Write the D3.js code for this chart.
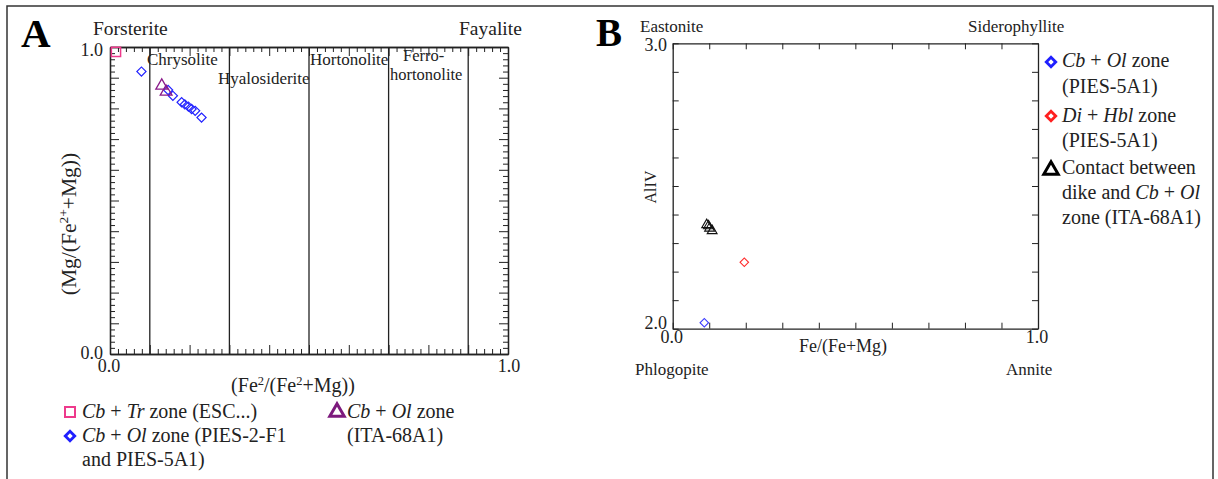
<!DOCTYPE html>
<html><head><meta charset="utf-8">
<script src="https://cdn.jsdelivr.net/npm/d3@7"></script>
<style>
body{margin:0;background:#fff;}
svg text{font-family:"Liberation Serif","Times New Roman",serif;fill:#222;}
</style></head>
<body><svg id="c" width="1218" height="479" font-family="Liberation Serif, Times New Roman, serif"></svg>
<script>
// ---------- DATA ----------
// Panel A (olivine): [Fe2/(Fe2+Mg), Mg/(Fe2++Mg)]
const olTr = [[0.015, 0.984]];
const olPies = [[0.079, 0.920],[0.146, 0.860],[0.158, 0.841],[0.180, 0.820],[0.188, 0.813],[0.197, 0.806],[0.205, 0.798],[0.214, 0.792],[0.230, 0.770]];
const olIta = [[0.130, 0.874],[0.141, 0.854]];
const olZoneLines = [0.1, 0.3, 0.5, 0.7, 0.9];
const olZoneNames = ["Chrysolite", "Hyalosiderite", "Hortonolite"];
const olZoneLast = ["Ferro-", "hortonolite"];
// Panel B (biotite): [Fe/(Fe+Mg), AlIV]
const biPies = [[0.0865, 2.021]];
const biDiHbl = [[0.196, 2.233]];
const biIta = [[0.093, 2.364],[0.098, 2.360],[0.101, 2.352],[0.108, 2.343]];
const tickLabelsA = ["0.0", "1.0"];
const tickLabelsBy = ["2.0", "3.0"];

const svg = d3.select("#c");
const ink = "#222";

// outer frame
svg.append("path").attr("d","M7,479 L7,6 L1213,6 L1213,479").attr("fill","none").attr("stroke","#333").attr("stroke-width",1.5);

function diamond(g, data, x, y, color, size, sw){
  g.selectAll(null).data(data).enter().append("path")
    .attr("d", d3.symbol().type(d3.symbolSquare).size(size)())
    .attr("transform", d=>`translate(${x(d[0])},${y(d[1])}) rotate(45)`)
    .attr("fill","none").attr("stroke",color).attr("stroke-width",sw);
}
function square(g, data, x, y, color, size, sw){
  g.selectAll(null).data(data).enter().append("path")
    .attr("d", d3.symbol().type(d3.symbolSquare).size(size)())
    .attr("transform", d=>`translate(${x(d[0])},${y(d[1])})`)
    .attr("fill","none").attr("stroke",color).attr("stroke-width",sw);
}
function triangle(g, data, x, y, color, size, sw){
  g.selectAll(null).data(data).enter().append("path")
    .attr("d", d3.symbol().type(d3.symbolTriangle).size(size)())
    .attr("transform", d=>`translate(${x(d[0])},${y(d[1])})`)
    .attr("fill","none").attr("stroke",color).attr("stroke-width",sw);
}
function styleAxis(g){
  g.select(".domain").attr("stroke",ink).attr("stroke-width",1.3);
  g.selectAll(".tick line").attr("stroke",ink).attr("stroke-width",1);
  g.selectAll(".tick text").remove();
}

// ---------- PANEL A ----------
const xA = d3.scaleLinear().domain([0,1]).range([110,508]);
const yA = d3.scaleLinear().domain([0,1]).range([354,47]);
const gA = svg.append("g");
const minorA = d3.range(0,51).map(i=>i/50).filter(v=>Math.round(v*50)%5!==0);
const majorA = d3.range(0,11).map(i=>i/10);
[[d3.axisBottom, yA(0)],[d3.axisTop,yA(1)]].forEach(([ax,pos])=>{
  styleAxis(gA.append("g").attr("transform",`translate(0,${pos})`).call(ax(xA).tickValues(minorA).tickSize(-5).tickSizeOuter(0)));
  styleAxis(gA.append("g").attr("transform",`translate(0,${pos})`).call(ax(xA).tickValues(majorA).tickSize(-9).tickSizeOuter(0)));
});
[[d3.axisLeft, xA(0)],[d3.axisRight,xA(1)]].forEach(([ax,pos])=>{
  styleAxis(gA.append("g").attr("transform",`translate(${pos},0)`).call(ax(yA).tickValues(minorA).tickSize(-5).tickSizeOuter(0)));
  styleAxis(gA.append("g").attr("transform",`translate(${pos},0)`).call(ax(yA).tickValues(majorA).tickSize(-9).tickSizeOuter(0)));
});
gA.selectAll(null).data(olZoneLines).enter().append("line")
  .attr("x1",d=>xA(d)).attr("x2",d=>xA(d)).attr("y1",yA(0)).attr("y2",yA(1))
  .attr("stroke",ink).attr("stroke-width",1.3);

// tick labels
gA.append("text").attr("x",103).attr("y",yA(1)+9).attr("text-anchor","end").attr("font-size",18).text(tickLabelsA[1]);
gA.append("text").attr("x",103).attr("y",yA(0)+5).attr("text-anchor","end").attr("font-size",18).text(tickLabelsA[0]);
gA.append("text").attr("x",xA(0)-1).attr("y",372).attr("text-anchor","middle").attr("font-size",18).text(tickLabelsA[0]);
gA.append("text").attr("x",xA(1)+1).attr("y",372).attr("text-anchor","middle").attr("font-size",18).text(tickLabelsA[1]);

// zone names
const zoneA = [[147,65,0],[218,84,1],[310,65,2]];
zoneA.forEach(([x,y,i])=>gA.append("text").attr("x",x).attr("y",y).attr("font-size",17).text(olZoneNames[i]));
gA.append("text").attr("font-size",16.5).attr("x",403).attr("y",61).text(olZoneLast[0]);
gA.append("text").attr("font-size",16.5).attr("x",390).attr("y",80).text(olZoneLast[1]);

gA.append("text").attr("x",21).attr("y",47).attr("font-size",41).attr("font-weight","bold").style("fill","#000").text("A");
gA.append("text").attr("x",93).attr("y",35).attr("font-size",19.5).text("Forsterite");
gA.append("text").attr("x",459).attr("y",35).attr("font-size",19.5).text("Fayalite");

// axis titles
const xt = gA.append("text").attr("x",293).attr("y",392).attr("text-anchor","middle").attr("font-size",20);
xt.append("tspan").text("(Fe");
xt.append("tspan").attr("font-size",12.5).attr("dy",-7).text("2");
xt.append("tspan").attr("dy",7).text("/(Fe");
xt.append("tspan").attr("font-size",12.5).attr("dy",-7).text("2");
xt.append("tspan").attr("dy",7).text("+Mg))");
const yt = gA.append("text").attr("transform","translate(76,224) rotate(-90)").attr("text-anchor","middle").attr("font-size",21.5);
yt.append("tspan").text("(Mg/(Fe");
yt.append("tspan").attr("font-size",13.5).attr("dy",-8).text("2+");
yt.append("tspan").attr("dy",8).text("+Mg))");

// marks
diamond(gA, olPies, xA, yA, "#2323ff", 42, 1.2);
triangle(gA, olIta, xA, yA, "#8a1a8a", 60, 1.3);
square(gA, olTr, xA, yA, "#ee3a8c", 85, 1.5);

// legend A
function legendText(g, x, y, parts, size){
  const t = g.append("text").attr("x",x).attr("y",y).attr("font-size",size);
  parts.forEach(p=>{ const s=t.append("tspan").text(p[0]); if(p[1]) s.attr("font-style","italic"); });
  return t;
}
const idx = d3.scaleIdentity();
square(gA.append("g").attr("transform","translate(70,412)"), [[0,0]], idx, idx, "#ee3a8c", 100, 2);
legendText(gA, 82, 418, [["Cb",1],[" + "],["Tr",1],[" zone (ESC...)"]], 20);
diamond(gA.append("g").attr("transform","translate(70,436)"), [[0,0]], idx, idx, "#1f1fff", 45, 2.8);
legendText(gA, 82, 442, [["Cb",1],[" + "],["Ol",1],[" zone (PIES-2-F1"]], 20);
legendText(gA, 82, 466, [["and PIES-5A1)"]], 20);
triangle(gA.append("g").attr("transform","translate(337,412)"), [[0,0]], idx, idx, "#7d1a7d", 90, 3);
legendText(gA, 347, 418, [["Cb",1],[" + "],["Ol",1],[" zone"]], 20);
legendText(gA, 347, 442, [["(ITA-68A1)"]], 20);

// ---------- PANEL B ----------
const xB = d3.scaleLinear().domain([0,1]).range([672.7,1038]);
const yB = d3.scaleLinear().domain([2,3]).range([328.7,43.3]);
const gB = svg.append("g");
const ticksBx = d3.range(0,11).map(i=>i/10);
const ticksBy = d3.range(0,11).map(i=>2+i/10);
[[d3.axisBottom,yB(2)],[d3.axisTop,yB(3)]].forEach(([ax,pos])=>{
  styleAxis(gB.append("g").attr("transform",`translate(0,${pos})`).call(ax(xB).tickValues(ticksBx).tickSize(-6).tickSizeOuter(0)));
});
[[d3.axisLeft,xB(0)],[d3.axisRight,xB(1)]].forEach(([ax,pos])=>{
  styleAxis(gB.append("g").attr("transform",`translate(${pos},0)`).call(ax(yB).tickValues(ticksBy).tickSize(-6).tickSizeOuter(0)));
});
gB.append("text").attr("x",667).attr("y",51).attr("text-anchor","end").attr("font-size",18).text(tickLabelsBy[1]);
gB.append("text").attr("x",667).attr("y",329).attr("text-anchor","end").attr("font-size",18).text(tickLabelsBy[0]);
gB.append("text").attr("x",xB(0)-1).attr("y",343).attr("text-anchor","middle").attr("font-size",18).text(tickLabelsA[0]);
gB.append("text").attr("x",xB(1)-1).attr("y",343).attr("text-anchor","middle").attr("font-size",18).text(tickLabelsA[1]);
gB.append("text").attr("x",843).attr("y",352).attr("text-anchor","middle").attr("font-size",18).text("Fe/(Fe+Mg)");
gB.append("text").attr("transform","translate(656,187) rotate(-90)").attr("text-anchor","middle").attr("font-size",16).text("AlIV");
gB.append("text").attr("x",596).attr("y",46).attr("font-size",39).attr("font-weight","bold").style("fill","#000").text("B");
gB.append("text").attr("x",640).attr("y",32).attr("font-size",17).text("Eastonite");
gB.append("text").attr("x",968).attr("y",32).attr("font-size",17).text("Siderophyllite");
gB.append("text").attr("x",635).attr("y",375).attr("font-size",17).text("Phlogopite");
gB.append("text").attr("x",1006).attr("y",375).attr("font-size",17).text("Annite");

diamond(gB, biPies, xB, yB, "#3a3aff", 36, 1.1);
diamond(gB, biDiHbl, xB, yB, "#ff2a2a", 36, 1.1);
triangle(gB, biIta, xB, yB, "#111", 42, 1.1);

// legend B
diamond(gB.append("g").attr("transform","translate(1051,62)"), [[0,0]], idx, idx, "#1f1fff", 45, 2.8);
legendText(gB, 1062, 67, [["Cb",1],[" + "],["Ol",1],[" zone"]], 20);
legendText(gB, 1062, 93, [["(PIES-5A1)"]], 20);
diamond(gB.append("g").attr("transform","translate(1051,116)"), [[0,0]], idx, idx, "#ff1f1f", 45, 2.8);
legendText(gB, 1062, 122, [["Di",1],[" + "],["Hbl",1],[" zone"]], 20);
legendText(gB, 1062, 147, [["(PIES-5A1)"]], 20);
triangle(gB.append("g").attr("transform","translate(1051,170)"), [[0,0]], idx, idx, "#000", 90, 3);
legendText(gB, 1062, 174, [["Contact between"]], 20);
legendText(gB, 1062, 199, [["dike and "],["Cb",1],[" + "],["Ol",1]], 20);
legendText(gB, 1062, 224, [["zone (ITA-68A1)"]], 20);
</script></body></html>
